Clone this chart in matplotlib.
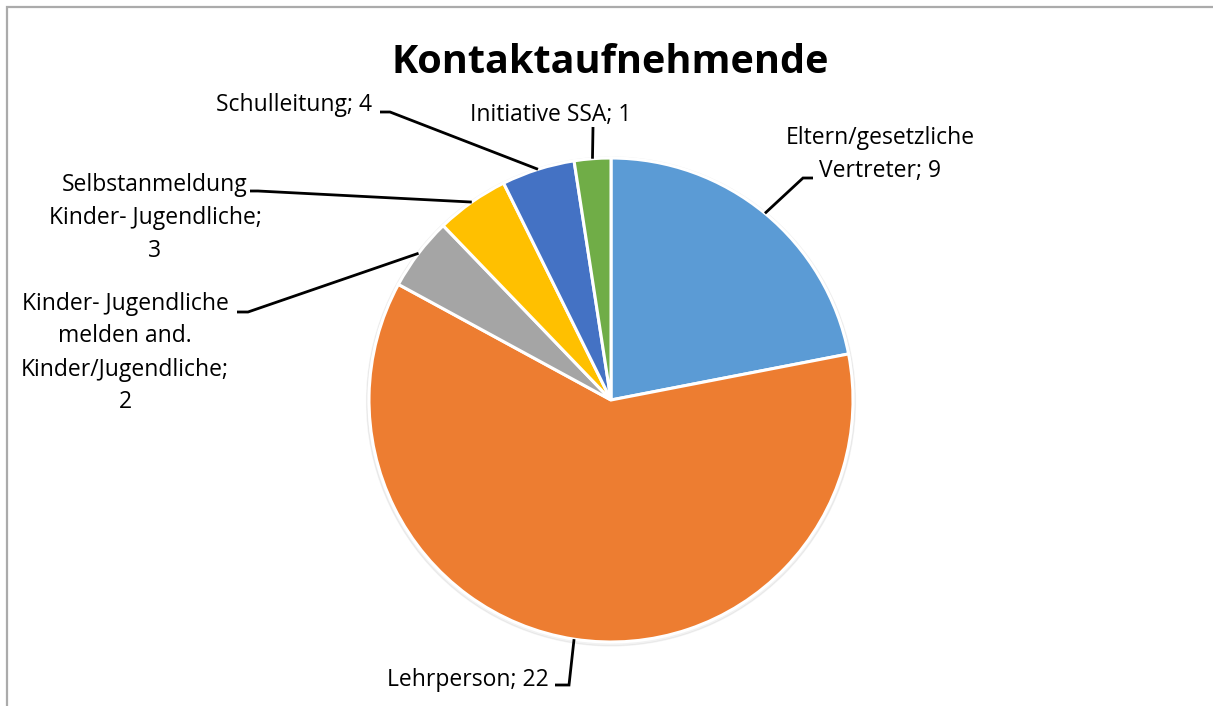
import matplotlib
matplotlib.use("Agg")
import matplotlib.pyplot as plt
import numpy as np
from matplotlib.patches import Rectangle

# ---- data ----
categories = ["Eltern/gesetzliche\nVertreter", "Lehrperson",
              "Kinder- Jugendliche\nmelden and.\nKinder/Jugendliche",
              "Selbstanmeldung\nKinder- Jugendliche", "Schulleitung", "Initiative SSA"]
# slice sizes as drawn in the picture
slice_values = [9, 25, 2, 2, 2, 1]
# numbers printed in the data labels
label_values = [9, 22, 2, 3, 4, 1]
colors = ["#5B9BD5", "#ED7D31", "#A5A5A5", "#FFC000", "#4472C4", "#70AD47"]
title = "Kontaktaufnehmende"

W, H = 1213, 706
fig = plt.figure(figsize=(W / 100, H / 100), dpi=100)
fig.patch.set_facecolor("white")

# chart frame
fig.patches.append(Rectangle((7 / W, -0.05), 1.2, (H - 7) / H + 0.05, transform=fig.transFigure,
                             fill=False, edgecolor="#ABABAB", linewidth=1.6))

cx, cy, R = 611, 400, 242
ax = fig.add_axes([(cx - R) / W, (H - cy - R) / H, 2 * R / W, 2 * R / H])
ax.axis("off")

def px(x, y):
    return ((x - cx) / R, (cy - y) / R)

# soft shadow
shadow = plt.Circle((0.0, -0.006), 1.01, color="#000000", alpha=0.05, zorder=0, clip_on=False)
ax.add_patch(shadow)

wedges, _ = ax.pie(slice_values, colors=colors, startangle=90, counterclock=False,
                   radius=1.0, wedgeprops=dict(edgecolor="white", linewidth=2.2, clip_on=False))
ax.set_xlim(-1, 1)
ax.set_ylim(-1, 1)
ax.set_aspect("equal")

font = "Open Sans"
label_text = [f"{c}; {v}" if "\n" not in c else f"{c};\n{v}" for c, v in zip(categories, label_values)]
label_text[0] = "Eltern/gesetzliche\nVertreter; {}".format(label_values[0])

# layout: text centre, elbow point, stub end (pixels)
text_pos = [(880, 154), (468, 680), (125, 353), (155, 218), (294, 105), (551, 115)]
elbows = [(803, 178), (569, 685), (248, 312), (258, 191), (390, 112), (593, 127)]
stubs = [(813, 178), (555, 685), (237, 312), (250, 191), (380, 112), (593, 127)]

for w, txt, tp, el, st in zip(wedges, label_text, text_pos, elbows, stubs):
    ang = np.deg2rad((w.theta1 + w.theta2) / 2)
    x0, y0 = np.cos(ang), np.sin(ang)
    ex, ey = px(*el)
    sx, sy = px(*st)
    ax.plot([x0, ex, sx], [y0, ey, sy], color="black", linewidth=2.0, clip_on=False,
            solid_capstyle="butt", solid_joinstyle="miter")
    tx, ty = px(*tp)
    ax.text(tx, ty, txt, ha="center", va="center", fontsize=16.5, family=font,
            linespacing=1.5, multialignment="center", clip_on=False)

fig.text(610 / W, (H - 73) / H, title, ha="center", va="baseline", fontsize=28.5,
         fontweight="bold", family=font)

fig.savefig("out.png", dpi=100, facecolor="white")
